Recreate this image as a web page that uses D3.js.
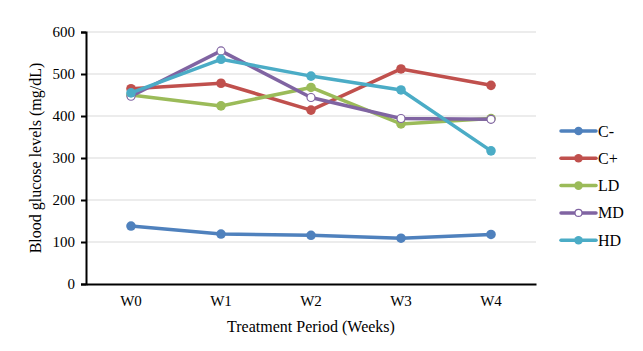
<!DOCTYPE html>
<html>
<head>
<meta charset="utf-8">
<script src="https://cdn.jsdelivr.net/npm/d3@7"></script>
<style>
  body { margin: 0; background: #fff; }
</style>
</head>
<body>
<svg id="chart"></svg>
<script>
const weeks = ["W0", "W1", "W2", "W3", "W4"];
const seriesNames = ["C-", "C+", "LD", "MD", "HD"];
const cMinus = [138, 119, 116, 109, 118];
const cPlus = [465, 478, 414, 512, 473];
const ld = [450, 424, 468, 381, 394];
const md = [447, 555, 444, 394, 392];
const hd = [455, 535, 495, 462, 317];
const yTicks = [0, 100, 200, 300, 400, 500, 600];

const colors = ["#4F81BD", "#C0504D", "#9BBB59", "#8064A2", "#4BACC6"];
const hollow = [false, false, false, true, false];
const allValues = [cMinus, cPlus, ld, md, hd];
const serif = "'Liberation Serif', 'Times New Roman', serif";

const W = 643, H = 351;
const margin = {top: 32, right: 107, bottom: 67, left: 86};
const width = W - margin.left - margin.right;
const height = H - margin.top - margin.bottom;

const svg = d3.select("#chart").attr("width", W).attr("height", H);
const g = svg.append("g").attr("transform", "translate(" + margin.left + "," + margin.top + ")");

const x = d3.scaleBand().domain(weeks).range([0, width]);
const y = d3.scaleLinear().domain([0, 600]).range([height, 0]);

// gridlines
g.append("g").selectAll("line").data(yTicks.slice(1)).join("line")
  .attr("x1", 0).attr("x2", width)
  .attr("y1", d => y(d)).attr("y2", d => y(d))
  .attr("stroke", "#d9d9d9").attr("stroke-width", 1);

// y axis
const yAxis = g.append("g")
  .call(d3.axisLeft(y).tickValues(yTicks).tickSize(5).tickPadding(6))
  .attr("font-family", serif).attr("font-size", 15);
yAxis.select(".domain").attr("stroke", "#000").attr("stroke-width", 2);
yAxis.selectAll(".tick line").attr("stroke", "#000").attr("stroke-width", 2);
yAxis.selectAll("text").attr("fill", "#000").style("font-family", serif);

// x axis
const xAxis = g.append("g").attr("transform", "translate(0," + height + ")")
  .call(d3.axisBottom(x).tickSize(0).tickPadding(11))
  .attr("font-family", serif).attr("font-size", 15);
xAxis.select(".domain").attr("stroke", "#000").attr("stroke-width", 2);
xAxis.selectAll("text").attr("fill", "#000").style("font-family", serif);

// series
const line = d3.line()
  .x((d, i) => x(weeks[i]) + x.bandwidth() / 2)
  .y(d => y(d));

allValues.forEach((vals, s) => {
  g.append("path").datum(vals)
    .attr("fill", "none").attr("stroke", colors[s])
    .attr("stroke-width", 3.5).attr("stroke-linejoin", "round")
    .attr("d", line);
  g.append("g").selectAll("circle").data(vals).join("circle")
    .attr("cx", (d, i) => x(weeks[i]) + x.bandwidth() / 2)
    .attr("cy", d => y(d))
    .attr("r", hollow[s] ? 4 : 4.8)
    .attr("fill", hollow[s] ? "#fff" : colors[s])
    .attr("stroke", colors[s])
    .attr("stroke-width", hollow[s] ? 1.2 : 0);
});

// axis titles
svg.append("text")
  .attr("x", margin.left + width / 2).attr("y", 332)
  .attr("text-anchor", "middle").attr("font-size", 16)
  .style("font-family", serif)
  .text("Treatment Period (Weeks)");
svg.append("text")
  .attr("transform", "translate(41," + (margin.top + height / 2) + ") rotate(-90)")
  .attr("text-anchor", "middle").attr("font-size", 16)
  .style("font-family", serif)
  .text("Blood glucose levels (mg/dL)");

// legend
const legend = svg.append("g").attr("transform", "translate(561,131)");
seriesNames.forEach((name, i) => {
  const row = legend.append("g").attr("transform", "translate(0," + (i * 27.3) + ")");
  row.append("line").attr("x1", 0).attr("x2", 35).attr("y1", 0).attr("y2", 0)
    .attr("stroke", colors[i]).attr("stroke-width", 3.5).attr("stroke-linecap", "round");
  row.append("circle").attr("cx", 17.5).attr("cy", 0)
    .attr("r", hollow[i] ? 3.5 : 4.3)
    .attr("fill", hollow[i] ? "#fff" : colors[i])
    .attr("stroke", colors[i]).attr("stroke-width", hollow[i] ? 1.2 : 0);
  row.append("text").attr("x", 37).attr("y", 5.5).attr("font-size", 16)
    .style("font-family", serif).text(name);
});
</script>
</body>
</html>
